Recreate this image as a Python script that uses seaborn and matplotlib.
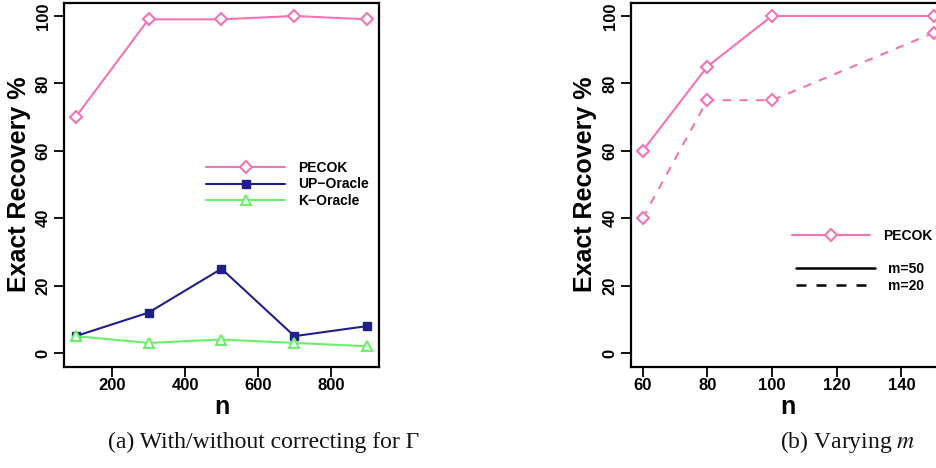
import matplotlib
matplotlib.use("Agg")
import matplotlib.pyplot as plt
from matplotlib.lines import Line2D
import seaborn as sns
import pandas as pd

# ---- data ----
n_a = [100, 300, 500, 700, 900]
pecok_a = [70, 99, 99, 100, 99]
up_oracle = [5, 12, 25, 5, 8]
k_oracle = [5, 3, 4, 3, 2]

n_b = [60, 80, 100, 150]
pecok_m50 = [60, 85, 100, 100]
pecok_m20 = [40, 75, 75, 95]

y_ticks = [0, 20, 40, 60, 80, 100]
x_ticks_a = [200, 400, 600, 800]
x_ticks_b = [60, 80, 100, 120, 140]

caption_a = "(a) With/without correcting for \u0393"
caption_b = "(b) Varying $m$"

PINK = "#f472b6"
NAVY = "#1f1f8c"
GREEN = "#6cf06c"

sns.set_theme(style="white")
plt.rcParams["font.family"] = ["Liberation Sans", "DejaVu Sans"]
plt.rcParams["mathtext.fontset"] = "stix"
for key in ["text.color", "axes.labelcolor", "xtick.color", "ytick.color", "axes.edgecolor"]:
    plt.rcParams[key] = "black"

W, H = 937, 468
fig = plt.figure(figsize=(W / 100, H / 100), dpi=100)


def px_axes(left, top, right, bottom):
    return fig.add_axes([left / W, 1 - bottom / H, (right - left) / W, (bottom - top) / H])


ax1 = px_axes(64, 2.5, 379, 366.5)
ax2 = px_axes(631, 2.5, 945.3, 366.5)

diamond = dict(marker="D", markersize=6, markerfacecolor="white", markeredgewidth=1.5)
square = dict(marker="s", markersize=6, markeredgewidth=1.0)
triangle = dict(marker="^", markersize=7, markerfacecolor="white", markeredgewidth=1.5)

df_a = pd.DataFrame({"n": n_a, "PECOK": pecok_a, "UP-Oracle": up_oracle, "K-Oracle": k_oracle})
sns.lineplot(data=df_a, x="n", y="PECOK", ax=ax1, color=PINK, lw=1.5,
             markeredgecolor=PINK, **diamond)
sns.lineplot(data=df_a, x="n", y="UP-Oracle", ax=ax1, color=NAVY, lw=1.5,
             markerfacecolor=NAVY, markeredgecolor=NAVY, **square)
sns.lineplot(data=df_a, x="n", y="K-Oracle", ax=ax1, color=GREEN, lw=1.5,
             markeredgecolor=GREEN, **triangle)

df_b = pd.DataFrame({"n": n_b, "m50": pecok_m50, "m20": pecok_m20})
sns.lineplot(data=df_b, x="n", y="m50", ax=ax2, color=PINK, lw=1.5,
             markeredgecolor=PINK, **diamond)
sns.lineplot(data=df_b, x="n", y="m20", ax=ax2, color=PINK, lw=1.5, linestyle=(0, (4, 4)),
             markeredgecolor=PINK, **diamond)

for ax, xt, xlim, ylab_x in [(ax1, x_ticks_a, (68, 932), -0.143),
                             (ax2, x_ticks_b, (56.4, 153.6), -0.146)]:
    ax.set_xlim(*xlim)
    ax.set_ylim(-4, 104)
    ax.set_xticks(xt)
    ax.set_yticks(y_ticks)
    ax.set_xticklabels([str(v) for v in xt], fontsize=12, fontweight="bold")
    ax.set_yticklabels([str(v) for v in y_ticks], fontsize=12, fontweight="bold",
                       rotation=90, va="center")
    ax.tick_params(axis="both", direction="out", length=7, width=1.3, color="black",
                   labelcolor="black", bottom=True, left=True, top=False, right=False)
    ax.tick_params(axis="x", pad=1.5)
    ax.tick_params(axis="y", pad=2.5)
    for s in ax.spines.values():
        s.set_color("black")
        s.set_linewidth(1.6)
        s.set_visible(True)
    ax.set_xlabel("n", fontsize=18, fontweight="bold", color="black")
    ax.set_ylabel("Exact Recovery %", fontsize=18, fontweight="bold", color="black")
    ax.xaxis.label.set_va("baseline")
    ax.xaxis.set_label_coords(0.5, -0.1305)
    ax.yaxis.label.set_va("center")
    ax.yaxis.set_label_coords(ylab_x, 0.5)
    ax.grid(False)
    ax.set_facecolor("white")

# legend, left panel
h_a = [
    Line2D([], [], color=PINK, lw=1.5, markeredgecolor=PINK, **diamond),
    Line2D([], [], color=NAVY, lw=1.5, markerfacecolor=NAVY, markeredgecolor=NAVY, **square),
    Line2D([], [], color=GREEN, lw=1.5, markeredgecolor=GREEN, **triangle),
]
leg_font = {"weight": "bold", "size": 10}
ax1.legend(h_a, ["PECOK", "UP\u2212Oracle", "K\u2212Oracle"], frameon=False,
           loc="center left", bbox_to_anchor=(206 / W, 1 - 184.5 / H),
           bbox_transform=fig.transFigure, borderpad=0, borderaxespad=0,
           handlelength=5.7, handletextpad=0.95, labelspacing=0.2, prop=leg_font,
           labelcolor="black")

# legends, right panel
h_b1 = [Line2D([], [], color=PINK, lw=1.5, markeredgecolor=PINK, **diamond)]
leg2 = ax2.legend(h_b1, ["PECOK"], frameon=False, loc="center left",
                  bbox_to_anchor=(792 / W, 1 - 236 / H), bbox_transform=fig.transFigure,
                  borderpad=0, borderaxespad=0, handlelength=5.6, handletextpad=0.95,
                  prop=leg_font, labelcolor="black")
ax2.add_artist(leg2)
h_b2 = [Line2D([], [], color="black", lw=1.8),
        Line2D([], [], color="black", lw=1.8, linestyle=(0, (4, 4)))]
ax2.legend(h_b2, ["m=50", "m=20"], frameon=False, loc="center left",
           bbox_to_anchor=(796 / W, 1 - 277.5 / H), bbox_transform=fig.transFigure,
           borderpad=0, borderaxespad=0, handlelength=5.7, handletextpad=0.95,
           labelspacing=0.2, prop=leg_font, labelcolor="black")

# subfigure captions
cap_kw = dict(fontsize=17, family=["Liberation Serif", "DejaVu Serif"], va="baseline",
              ha="left", color="#111111")
fig.text(108 / W, 1 - 448 / H, caption_a, **cap_kw)
fig.text(780 / W, 1 - 448 / H, caption_b, **cap_kw)

fig.savefig("out.png", dpi=100, facecolor="white")
